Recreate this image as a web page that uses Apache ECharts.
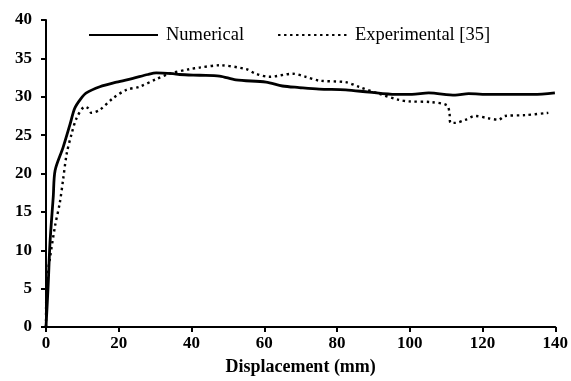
<!DOCTYPE html>
<html>
<head>
<meta charset="utf-8">
<script src="https://cdn.jsdelivr.net/npm/echarts@6/dist/echarts.min.js"></script>
<style>html,body{margin:0;padding:0;background:#fff}#c{width:571px;height:381px}</style>
</head>
<body>
<div id="c"></div>
<script>
var seriesNames = ["Numerical", "Experimental [35]"];
var xTicks = [0, 20, 40, 60, 80, 100, 120, 140];
var yTicks = [0, 5, 10, 15, 20, 25, 30, 35, 40];
var xTitle = "Displacement (mm)";

var numX = [0, 0.6, 1.1, 2.0, 2.5, 4.7, 6.6, 7.9, 9.5, 11.1, 14.8, 19.4, 23.9, 28.0, 30.3, 34.9, 36.7, 42.2, 47.7, 52.2, 60.5, 65.0, 69.6, 75.1, 82.4, 88.8, 96.1, 100.6, 105.2, 112.5, 116.2, 122.0, 128.0, 134.0, 139.9];
var numY = [0, 5.5, 11.0, 17.0, 20.4, 23.4, 26.4, 28.5, 29.7, 30.5, 31.3, 31.9, 32.4, 32.9, 33.1, 33.0, 32.9, 32.8, 32.7, 32.2, 31.9, 31.4, 31.2, 31.0, 30.9, 30.6, 30.3, 30.3, 30.5, 30.2, 30.4, 30.3, 30.3, 30.3, 30.5];

var expX = [0, 0.2, 1.1, 2.5, 3.8, 4.7, 5.7, 7.0, 8.4, 10.7, 11.6, 12.5, 14.8, 18.4, 22.1, 25.7, 30.3, 33.9, 39.5, 42.2, 47.7, 55.0, 57.7, 61.4, 67.8, 71.4, 75.1, 82.4, 86.0, 91.5, 97.0, 99.7, 106.0, 110.2, 110.9, 111.2, 112.5, 115.3, 118.0, 121.6, 124.4, 126.2, 131.7, 138.1];
var expY = [0, 6.0, 9.0, 13.2, 16.2, 19.2, 22.6, 25.1, 27.2, 28.7, 28.5, 27.9, 28.3, 29.8, 30.9, 31.3, 32.3, 33.0, 33.6, 33.8, 34.1, 33.6, 33.0, 32.6, 33.0, 32.6, 32.1, 31.9, 31.3, 30.4, 29.6, 29.4, 29.3, 28.9, 28.0, 26.6, 26.6, 27.0, 27.5, 27.2, 27.0, 27.5, 27.6, 27.9];

function pairs(xs, ys) { return xs.map(function (x, i) { return [x, ys[i]]; }); }

var font = "'Liberation Serif','Times New Roman',serif";
var chart = echarts.init(document.getElementById('c'), null, {renderer: 'canvas'});
chart.setOption({
  backgroundColor: '#fff',
  animation: false,
  grid: {left: 46, right: 15, top: 20, bottom: 48, containLabel: false},
  legend: {
    left: 83, top: 20.5, itemWidth: 69, itemHeight: 16, itemGap: 33,
    itemStyle: {opacity: 0, borderWidth: 0},
    textStyle: {fontFamily: font, fontSize: 18.5, color: '#000', padding: [0, 0, 0, 3]},
    data: seriesNames
  },
  xAxis: {
    type: 'value', min: xTicks[0], max: xTicks[xTicks.length - 1], interval: 20,
    name: xTitle, nameLocation: 'middle', nameGap: 31,
    nameTextStyle: {fontFamily: font, fontSize: 18, fontWeight: 'bold', color: '#000'},
    axisLine: {lineStyle: {color: '#000', width: 2}},
    axisTick: {show: true, length: 5, inside: false, lineStyle: {color: '#000', width: 2}},
    axisLabel: {fontFamily: font, fontSize: 17, fontWeight: 'bold', color: '#000', margin: 8},
    splitLine: {show: false}
  },
  yAxis: {
    type: 'value', min: yTicks[0], max: yTicks[yTicks.length - 1], interval: 5,
    axisLine: {show: true, lineStyle: {color: '#000', width: 2}},
    axisTick: {show: true, length: 5, inside: false, lineStyle: {color: '#000', width: 2}},
    axisLabel: {fontFamily: font, fontSize: 17, fontWeight: 'bold', color: '#000', margin: 14},
    splitLine: {show: false}
  },
  series: [
    {
      name: seriesNames[0], type: 'line', data: pairs(numX, numY),
      showSymbol: false, symbol: 'none', smooth: 0.3,
      lineStyle: {color: '#000', width: 2.8, type: 'solid'},
      itemStyle: {color: '#000'}
    },
    {
      name: seriesNames[1], type: 'line', data: pairs(expX, expY),
      showSymbol: false, symbol: 'none', smooth: 0.3,
      lineStyle: {color: '#000', width: 2.4, type: [2.4, 3.6]},
      itemStyle: {color: '#000'}
    }
  ]
});
</script>
</body>
</html>
